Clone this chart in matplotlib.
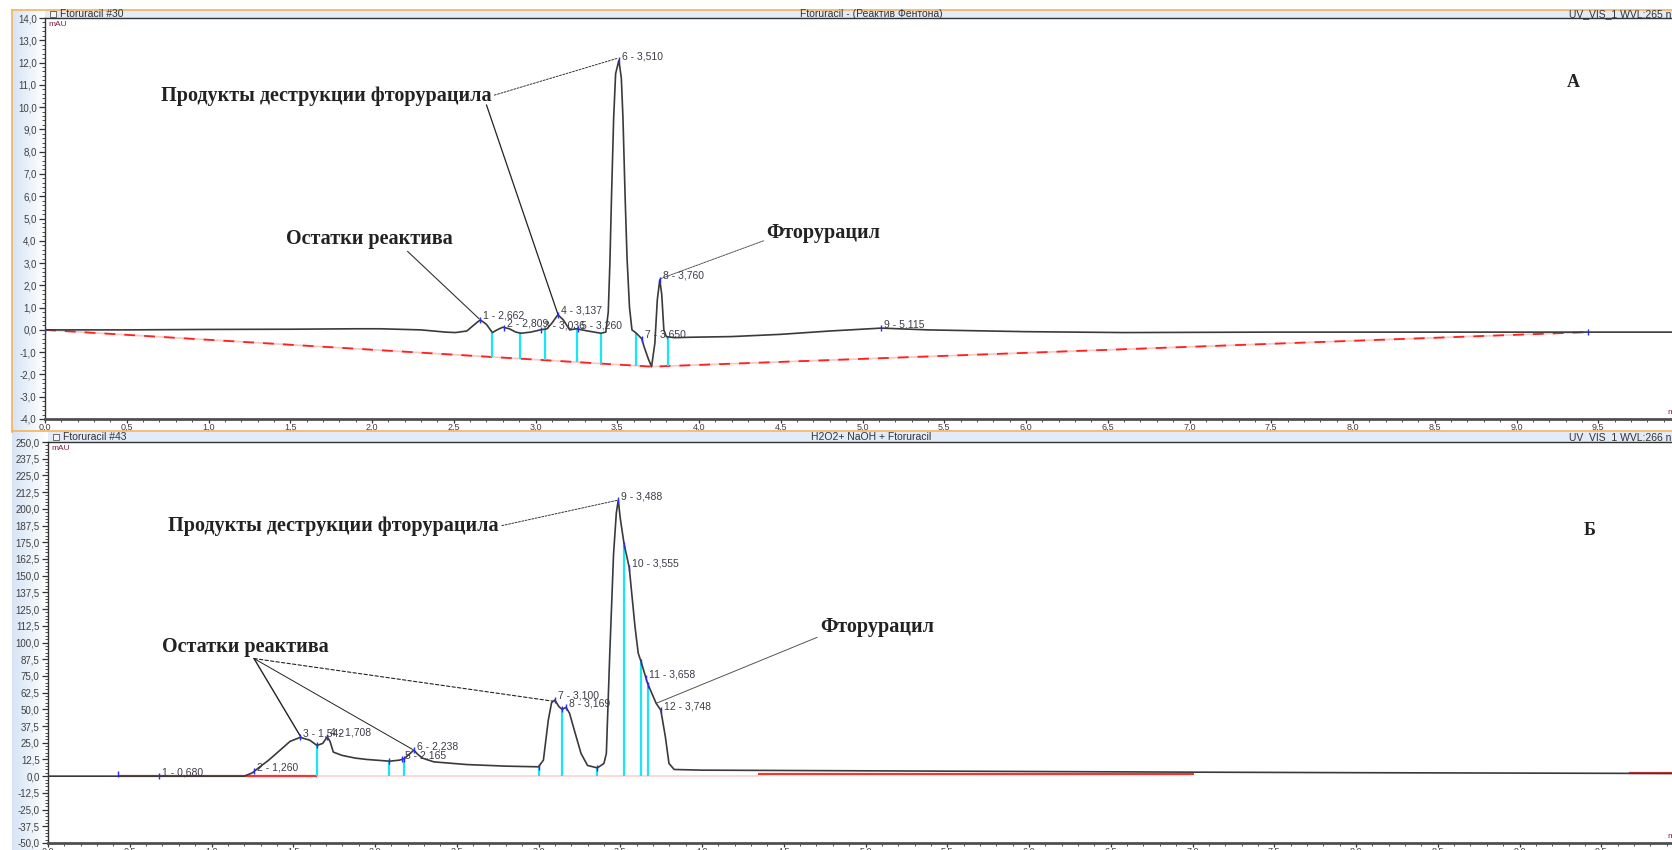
import numpy as np
import matplotlib
matplotlib.use("Agg")
import matplotlib.pyplot as plt
from matplotlib.patches import Rectangle
from matplotlib.colors import LinearSegmentedColormap
from matplotlib.ticker import MultipleLocator, FuncFormatter

W, H = 1672, 850

# ---- chromatogram A: Ftoruracil + Fenton reagent ----
a_time = [0.0, 0.5, 1.0, 1.5, 1.9, 2.05, 2.3, 2.45, 2.51, 2.58, 2.62, 2.662, 2.70, 2.736,
          2.77, 2.80, 2.84, 2.88, 2.913, 2.97, 3.03, 3.07, 3.10, 3.137, 3.17, 3.209, 3.25,
          3.32, 3.40, 3.43, 3.445, 3.455, 3.465, 3.478, 3.49, 3.51, 3.525, 3.535, 3.548,
          3.56, 3.575, 3.59, 3.617, 3.65, 3.664, 3.69, 3.71, 3.73, 3.745, 3.76, 3.772,
          3.785, 3.80, 3.85, 3.95, 4.2, 4.5, 4.8, 5.115, 5.4, 6.0, 6.6, 7.5, 8.5, 9.95]
a_mau = [0.0, 0.0, 0.02, 0.03, 0.05, 0.05, 0.0, -0.1, -0.12, -0.05, 0.2, 0.45, 0.25, -0.12,
         0.02, 0.12, 0.05, -0.1, -0.15, -0.1, 0.0, 0.05, 0.3, 0.68, 0.45, 0.0, 0.05,
         -0.05, -0.15, -0.1, 0.8, 3.0, 6.0, 9.5, 11.5, 12.1, 11.3, 9.5, 6.0,
         3.2, 1.0, 0.0, -0.15, -0.4, -0.75, -1.3, -1.65, -0.6, 1.35, 2.25, 1.6,
         0.0, -0.3, -0.35, -0.33, -0.3, -0.2, -0.05, 0.08, 0.0, -0.08, -0.12, -0.1, -0.1, -0.1]
a_base_time = [0.0, 3.71, 9.44]
a_base_mau = [0.0, -1.65, -0.1]
a_cuts = [2.736, 2.907, 3.056, 3.254, 3.403, 3.617, 3.81]
a_peak_no = [1, 2, 3, 4, 5, 6, 7, 8, 9]
a_peak_rt = [2.662, 2.809, 3.036, 3.137, 3.260, 3.510, 3.650, 3.760, 5.115]

# ---- chromatogram B: H2O2 + NaOH + Ftoruracil ----
b_time = [0.0, 1.20, 1.25, 1.28, 1.35, 1.42, 1.48, 1.542, 1.60, 1.645, 1.68, 1.708, 1.725,
          1.745, 1.80, 1.88, 1.95, 2.09, 2.15, 2.18, 2.21, 2.238, 2.26, 2.29, 2.36, 2.56,
          2.8, 3.0, 3.03, 3.06, 3.08, 3.10, 3.125, 3.145, 3.169, 3.19, 3.22, 3.26, 3.30,
          3.36, 3.40, 3.415, 3.436, 3.459, 3.476, 3.488, 3.50, 3.523, 3.555, 3.59, 3.61,
          3.63, 3.667, 3.72, 3.748, 3.776, 3.798, 3.83, 4.0, 5.0, 6.0, 7.0, 8.0, 9.0, 9.95]
b_mau = [0.0, 0.0, 2.5, 5.5, 12.0, 19.5, 26.0, 29.0, 27.0, 23.0, 24.5, 29.4, 26.0,
         18.0, 15.5, 13.5, 12.5, 11.2, 12.0, 13.2, 16.5, 19.5, 16.5, 13.5, 10.7, 8.7,
         7.5, 7.0, 12.0, 42.0, 55.0, 57.0, 52.0, 50.0, 51.5, 47.0, 34.0, 17.0, 8.0,
         6.2, 9.5, 17.0, 92.0, 166.0, 197.0, 206.5, 193.0, 174.0, 156.0, 112.0, 92.0,
         84.6, 69.4, 54.4, 49.4, 29.4, 9.5, 5.0, 4.5, 4.0, 3.5, 3.0, 2.6, 2.3, 2.0]
b_red_start = [0.43, 4.34, 9.67]
b_red_end = [1.647, 7.01, 9.95]
b_red_mau = [0.0, 1.3, 2.0]
b_cuts = [1.647, 2.085, 2.177, 3.0, 3.142, 3.36, 3.525, 3.627, 3.672]
b_peak_no = [1, 2, 3, 4, 5, 6, 7, 8, 9, 10, 11, 12]
b_peak_rt = [0.680, 1.260, 1.542, 1.708, 2.165, 2.238, 3.100, 3.169, 3.488, 3.555, 3.658, 3.748]

TRACE = "#3a3a3a"
CYAN = "#19e6f5"
BLUE = "#2a2af0"
ORANGE = "#f3b35c"
SERIF = ["Liberation Serif", "DejaVu Serif"]
SANS = ["Liberation Sans", "DejaVu Sans"]
ANN = dict(fontsize=14.5, fontweight="bold", family=SERIF, ha="center", va="center",
           color="#222222")

plt.rcParams["font.family"] = SANS

fig = plt.figure(figsize=(W / 100, H / 100), dpi=100)


def fig_rect(x0, y0, x1, y1, **kw):
    fig.add_artist(Rectangle((x0 / W, 1 - y1 / H), (x1 - x0) / W, (y1 - y0) / H,
                             transform=fig.transFigure, **kw))


def fig_line(x0, y0, x1, y1, **kw):
    fig.add_artist(plt.Line2D([x0 / W, x1 / W], [1 - y0 / H, 1 - y1 / H],
                              transform=fig.transFigure, **kw))


def fig_text(x, y, s, **kw):
    fig.text(x / W, 1 - y / H, s, **kw)


comma = FuncFormatter(lambda v, p: f"{v:.1f}".replace(".", ","))
strip_cmap = LinearSegmentedColormap.from_list("strip", ["#d6e4f5", "#ffffff"])

# window chrome: gradient strips, title bars, orange frame
for (y0, y1, xr) in [(10, 432, 45), (432, 850, 48)]:
    s = fig.add_axes([12 / W, 1 - y1 / H, (xr - 12) / W, (y1 - y0) / H], zorder=-2)
    s.imshow(np.linspace(0, 1, 64)[None, :], cmap=strip_cmap, aspect="auto",
             extent=[0, 1, 0, 1])
    s.axis("off")
fig_rect(45, 10, W, 18, facecolor="#e2ebf7", edgecolor="none", zorder=-1)
fig_rect(48, 432, W, 442, facecolor="#e2ebf7", edgecolor="none", zorder=-1)
fig_line(12, 10, W, 10, color=ORANGE, lw=1.2)
fig_line(12, 10, 12, 432, color=ORANGE, lw=1.2)
fig_line(12, 431, W, 431, color=ORANGE, lw=1.2)

for (x, y, left, centre, right) in [
        (46, 14, "Ftoruracil #30", "Ftoruracil - (Реактив Фентона)", "UV_VIS_1 WVL:265 nm"),
        (49, 437, "Ftoruracil #43", "H2O2+ NaOH + Ftoruracil", "UV_VIS_1 WVL:266 nm")]:
    fig_rect(x + 4, y - 3, x + 10, y + 3, facecolor="#f4f4f4", edgecolor="#555555", lw=0.6)
    fig_text(x + 14, y, left, fontsize=7.5, color="#333333", va="center")
    fig_text(871, y, centre, fontsize=7.5, color="#333333", va="center", ha="center")
    fig_text(1569, y, right, fontsize=7.5, color="#333333", va="center")

ax1 = fig.add_axes([45 / W, 1 - 419 / H, (W - 45) / W, (419 - 18) / H])
ax2 = fig.add_axes([48 / W, 1 - 843 / H, (W - 48) / W, (843 - 442) / H])


def style_axes(ax, ymin, ymax, ymaj, ymin_step, xmax):
    ax.set_xlim(0, xmax)
    ax.set_ylim(ymin, ymax)
    ax.xaxis.set_major_locator(MultipleLocator(0.5))
    ax.xaxis.set_minor_locator(MultipleLocator(0.1))
    ax.yaxis.set_major_locator(MultipleLocator(ymaj))
    ax.yaxis.set_minor_locator(MultipleLocator(ymin_step))
    ax.xaxis.set_major_formatter(comma)
    ax.yaxis.set_major_formatter(comma)
    ax.tick_params(which="major", width=0.9, color="#333333", labelcolor="#404040")
    ax.tick_params(axis="y", which="major", length=4.5, labelsize=7, pad=1.5)
    ax.tick_params(axis="x", which="major", length=3, labelsize=6.5, pad=0)
    ax.tick_params(which="minor", length=2, width=0.6, color="#333333")
    for side in ["left", "top"]:
        ax.spines[side].set_color("#333333")
        ax.spines[side].set_linewidth(1.0)
    ax.spines["bottom"].set_color("#505050")
    ax.spines["bottom"].set_linewidth(2.0)
    ax.spines["right"].set_visible(False)
    ax.annotate("mAU", xy=(0, 1), xycoords="axes fraction", xytext=(3, -6),
                textcoords="offset pixels", fontsize=6, color="#7a2040", va="center")
    ax.annotate("min", xy=(1, 0), xycoords="axes fraction", xytext=(-5, 6),
                textcoords="offset pixels", fontsize=6, color="#7a2040", va="center")


style_axes(ax1, -4, 14, 1.0, 0.2, (W - 45) / 163.5)
style_axes(ax2, -50, 250, 12.5, 2.5, (W - 48) / 163.5)


def peak_labels(ax, nos, rts, time, mau):
    h = np.interp(rts, time, mau)
    ax.plot(rts, h, "|", color=BLUE, ms=5, zorder=5)
    for no, rt, y in zip(nos, rts, h):
        ax.annotate(f"{no} - {rt:.3f}".replace(".", ","), xy=(rt, y), xytext=(3, 4),
                    textcoords="offset pixels", fontsize=7.5, color="#3c3c48",
                    ha="left", va="center", zorder=6)


def leader(ax, target, origin, lw=0.8, ls="-", color="#222222"):
    ax.annotate("", xy=target, xytext=origin,
                arrowprops=dict(arrowstyle="-", color=color, lw=lw, linestyle=ls,
                                shrinkA=0, shrinkB=0))


# ---- panel A drawing ----
ax1.plot(a_base_time, a_base_mau, color="#ffc8c8", lw=1.3, zorder=2)
ax1.plot(a_base_time, a_base_mau, color="#ff2020", lw=1.3, zorder=2, dashes=(6, 5))
ax1.vlines(a_cuts, np.interp(a_cuts, a_base_time, a_base_mau),
           np.interp(a_cuts, a_time, a_mau), color=CYAN, lw=1.6, zorder=3)
ax1.plot(a_time, a_mau, color=TRACE, lw=1.2, zorder=4)
ax1.plot([a_base_time[0], a_base_time[-1]], [a_base_mau[0], a_base_mau[-1]], "|",
         color=BLUE, ms=5, zorder=5)
peak_labels(ax1, a_peak_no, a_peak_rt, a_time, a_mau)

ax1.annotate("Продукты деструкции фторурацила", xy=(3.505, 12.2), xytext=(1.72, 10.5),
             arrowprops=dict(arrowstyle="-", color="#333333", lw=0.7,
                             linestyle=(0, (2, 1.5)), relpos=(1, 0.5),
                             shrinkA=0, shrinkB=0), **ANN)
leader(ax1, (3.137, 0.7), (2.7, 10.1), lw=0.9)
ax1.annotate("Остатки реактива", xy=(2.655, 0.5), xytext=(1.985, 4.1),
             arrowprops=dict(arrowstyle="-", color="#333333", lw=0.8, relpos=(0.71, 0),
                             shrinkA=0, shrinkB=0), **ANN)
ax1.annotate("Фторурацил", xy=(3.765, 2.3), xytext=(4.76, 4.37),
             arrowprops=dict(arrowstyle="-", color="#555555", lw=0.7,
                             linestyle=(0, (2, 1)), relpos=(0.03, 0.2),
                             shrinkA=0, shrinkB=0), **ANN)
ax1.text(9.35, 11.1, "А", **{**ANN, "fontsize": 13})

# ---- panel B drawing ----
ax2.plot([b_red_end[0], b_red_start[1]], [0, 0], color="#ffd0d0", lw=1.2, zorder=2)
ax2.hlines(b_red_mau, b_red_start, b_red_end, color="#ff3030", lw=1.6, zorder=3)
ax2.vlines(b_cuts, 0, np.interp(b_cuts, b_time, b_mau), color=CYAN, lw=1.6, zorder=3)
ax2.plot(b_time, b_mau, color=TRACE, lw=1.2, zorder=4)
ax2.plot(b_red_start[:1], [1.5], "|", color=BLUE, ms=5, zorder=5)
ax2.plot(b_cuts, np.interp(b_cuts, b_time, b_mau), "|", color=BLUE, ms=4, zorder=5)
peak_labels(ax2, b_peak_no, b_peak_rt, b_time, b_mau)

ax2.annotate("Продукты деструкции фторурацила", xy=(3.486, 206.5), xytext=(1.748, 187),
             arrowprops=dict(arrowstyle="-", color="#333333", lw=0.7,
                             linestyle=(0, (2, 1.5)), relpos=(1, 0.5),
                             shrinkA=0, shrinkB=0), **ANN)
ax2.text(1.21, 96.5, "Остатки реактива", **ANN)
leader(ax2, (1.547, 29.2), (1.26, 88), lw=1.0)
leader(ax2, (2.23, 20.0), (1.26, 88), lw=0.7)
leader(ax2, (3.095, 56.0), (1.26, 88), lw=0.8, ls=(0, (3, 2)))
ax2.annotate("Фторурацил", xy=(3.72, 54.5), xytext=(5.07, 111.5),
             arrowprops=dict(arrowstyle="-", color="#555555", lw=0.7,
                             relpos=(-0.02, 0), shrinkA=0, shrinkB=0), **ANN)
ax2.text(9.43, 184, "Б", **{**ANN, "fontsize": 13})

fig.savefig("out.png", dpi=100)
